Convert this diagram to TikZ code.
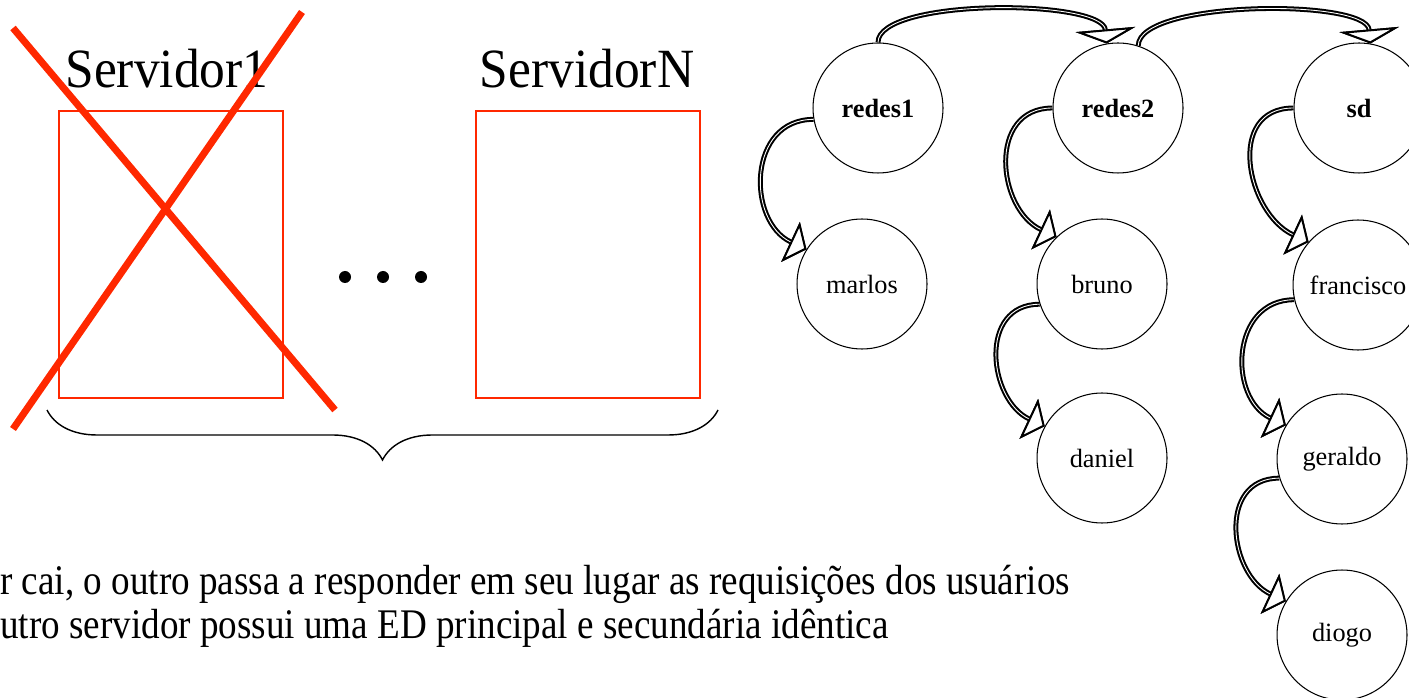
\documentclass[tikz,border=0pt]{standalone}
\usepackage{fontspec}
\setmainfont{Liberation Serif}
\usetikzlibrary{arrows.meta, decorations.pathreplacing, positioning}

\definecolor{crossred}{RGB}{255,40,0}

\tikzset{
  user/.style={draw, circle, minimum size=2.6cm, inner sep=0pt, line width=0.6pt, font=\fontsize{15}{18}\selectfont},
  group/.style={user, font=\fontsize{15}{18}\selectfont\bfseries},
  headside/.style={-{Triangle[color=black, fill=white, length=10pt, width=25pt, line width=1.1pt]}},
  headtop/.style={-{Triangle[color=black, fill=white, length=8pt, width=34pt, line width=1.1pt]}},
  link/.style={draw=white, line width=0.5pt, headside,
    preaction={draw=black, line width=2.8pt, headside}},
  toplink/.style={draw=white, line width=0.5pt, headtop,
    preaction={draw=black, line width=2.8pt, headtop}},
  serverbox/.style={draw=crossred, line width=1.2pt},
  servername/.style={anchor=base, font=\fontsize{31.5}{36}\selectfont},
  caption/.style={anchor=base west, inner sep=0pt, font=\fontsize{24}{28}\selectfont},
}

\begin{document}
\begin{tikzpicture}[x=0.02cm, y=0.02cm]
    \useasboundingbox (0,0) rectangle (1409,697);

    % servidores
    \draw[serverbox] (59,586) rectangle (283,299);
    \draw[serverbox] (476,586) rectangle (700,299);
    \node[servername] (s1) at (167,609) {\scalebox{0.93}[1]{Servidor1}};
    \node[servername] (sn) at (587,609) {\scalebox{0.93}[1]{ServidorN}};

    \foreach \x in {345,383,421}
        \fill (\x,420) circle (6);

    % servidor 1 caiu
    \draw[crossred, line width=4pt] (13,669) -- (335,287);
    \draw[crossred, line width=4pt] (13,268) -- (302,685);

    \draw[line width=0.8pt, decorate, decoration={brace, mirror, amplitude=1cm}] (47,287) -- (718,287);

    % estrutura de dados
    \node[group] (redes1) at (878,589) {redes1};
    \node[group] (redes2) at (1118,589) {redes2};
    \node[group] (sd) at (1359,589) {sd};
    \node[user] (marlos) at (862,413) {marlos};
    \node[user] (bruno) at (1102,413) {bruno};
    \node[user] (daniel) at (1102,239) {daniel};
    \node[user] (francisco) at (1358,412) {francisco};
    \node[user] (geraldo) at (1342,238) {geraldo};
    \node[user] (diogo) at (1342,62) {diogo};

    \path[toplink] (redes1.north) to[out=90, in=95, looseness=0.5] (redes2.100);
    \path[toplink] (redes2.72) to[out=90, in=95, looseness=0.5] (sd.80);

    \path[link] (redes1.190) to[out=180, in=155, looseness=1.3] (marlos.148);
    \path[link] (redes2.180) to[out=180, in=155, looseness=1.3] (bruno.134);
    \path[link] (bruno.198) to[out=180, in=155, looseness=1.3] (daniel.151);
    \path[link] (sd.180) to[out=180, in=155, looseness=1.3] (francisco.139);
    \path[link] (francisco.193) to[out=180, in=155, looseness=1.3] (geraldo.149);
    \path[link] (geraldo.197) to[out=180, in=155, looseness=1.3] (diogo.149);

    \node[caption] (linha1) at (0,103)
        {\scalebox{0.88}[1]{r cai, o outro passa a responder em seu lugar as requisições dos usuários}};
    \node[caption] (linha2) at (0,59)
        {\scalebox{0.88}[1]{utro servidor possui uma ED principal e secundária idêntica}};
\end{tikzpicture}
\end{document}
